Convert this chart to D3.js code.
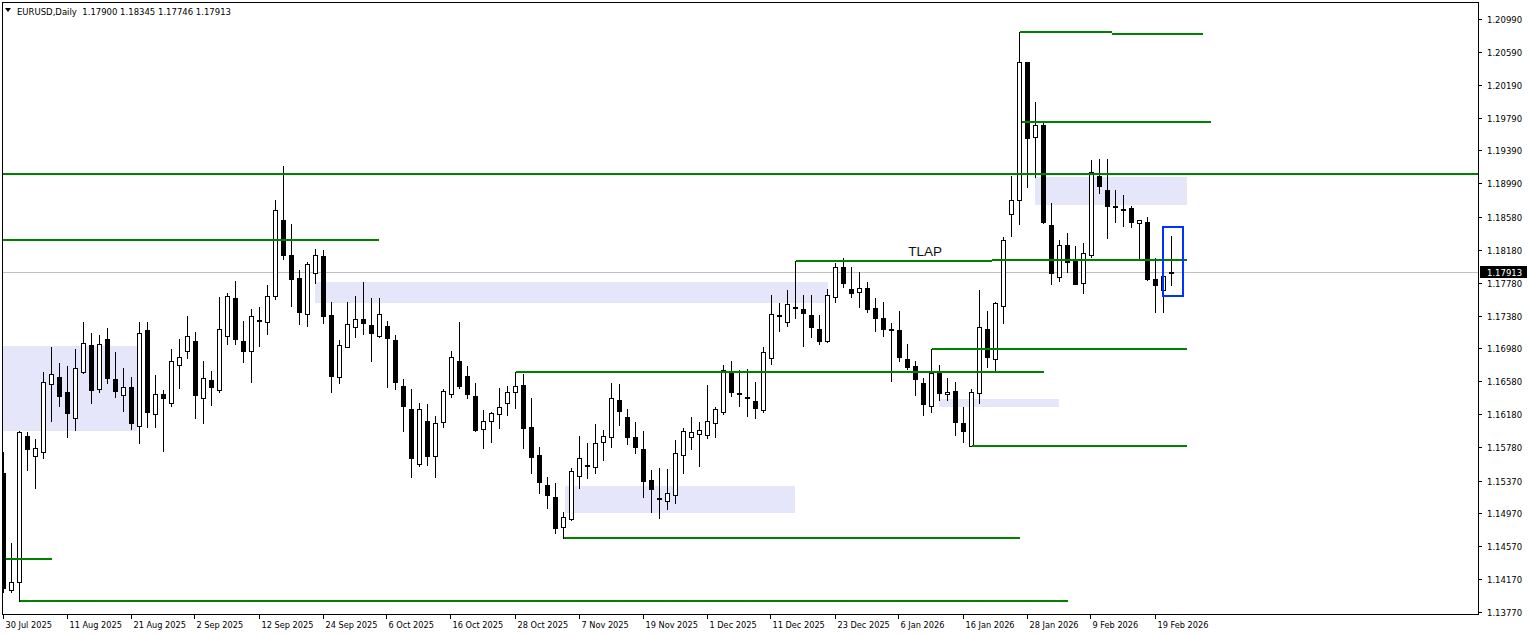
<!DOCTYPE html>
<html><head><meta charset="utf-8">
<script src="https://cdn.jsdelivr.net/npm/d3@7"></script>
<style>html,body{margin:0;padding:0;background:#fff;overflow:hidden}svg{display:block}</style>
</head><body>
<svg id="c" width="1530" height="636"></svg>
<script>
const open=[
1.15459,1.14038,1.14132,1.15913,1.15672,1.15714,1.16543,1.16627,1.16445,1.16128,
1.16695,1.17021,1.16482,1.17090,1.16603,1.16408,1.16506,1.16038,1.17203,1.16177,
1.16421,1.16314,1.16773,1.16944,1.17066,1.16372,1.16595,1.16469,1.17127,1.17593,
1.17066,1.16944,1.17325,1.17297,1.17614,1.18539,1.18113,1.17832,1.17394,1.17894,
1.18104,1.17386,1.16635,1.17000,1.17236,1.17334,1.17264,1.17134,1.17252,1.17082,
1.16522,1.16242,1.15568,1.16096,1.15665,1.16080,1.16421,1.16826,1.16643,1.16400,
1.15994,1.16092,1.16177,1.16311,1.16445,1.16534,1.16023,1.15681,1.15316,1.15170,
1.14808,1.14902,1.15430,1.15560,1.15539,1.15834,1.15905,1.16351,1.16144,1.15901,
1.15755,1.15377,1.15164,1.15118,1.15191,1.15678,1.15897,1.15934,1.15922,1.16068,
1.16208,1.16700,1.16432,1.16384,1.16339,1.16233,1.16859,1.17386,1.17297,1.17489,
1.17455,1.17382,1.17212,1.17074,1.17609,1.17967,1.17702,1.17665,1.17714,1.17467,
1.17345,1.17212,1.17203,1.16850,1.16765,1.16555,1.16282,1.16676,1.16421,1.16461,
1.16068,1.15791,1.16432,1.17212,1.16847,1.17496,1.18612,1.18782,1.20462,1.19549,
1.19695,1.18476,1.17845,1.18235,1.18044,1.17772,1.18113,1.19079,1.18907,1.18708,
1.18680,1.18685,1.18502,1.18514,1.17824,1.17690,1.17900];
const high=[
1.15721,1.14607,1.15974,1.15965,1.15876,1.16688,1.16993,1.16798,1.16765,1.16969,
1.17301,1.17167,1.17143,1.17228,1.16932,1.16737,1.16627,1.17301,1.17301,1.16655,
1.16473,1.16972,1.17094,1.17374,1.17175,1.16826,1.16704,1.17605,1.17650,1.17800,
1.17313,1.17459,1.17484,1.17747,1.18782,1.19200,1.18490,1.17934,1.18031,1.18190,
1.18177,1.17540,1.17082,1.17540,1.17617,1.17784,1.17589,1.17589,1.17313,1.17143,
1.16607,1.16485,1.16311,1.16299,1.16161,1.16485,1.16948,1.17297,1.16765,1.16555,
1.16229,1.16205,1.16493,1.16525,1.16696,1.16668,1.16379,1.15783,1.15417,1.15344,
1.14991,1.15527,1.15913,1.15824,1.16059,1.15986,1.16555,1.16546,1.16242,1.16084,
1.15974,1.15499,1.15523,1.15507,1.15864,1.16007,1.16144,1.16084,1.16534,1.16270,
1.16777,1.16826,1.16716,1.16728,1.16571,1.16996,1.17629,1.17528,1.17690,1.18044,
1.17629,1.17629,1.17386,1.17702,1.18016,1.18076,1.17967,1.17906,1.17792,1.17589,
1.17540,1.17285,1.17435,1.17033,1.16829,1.16615,1.16972,1.16777,1.16615,1.16574,
1.16270,1.16482,1.17690,1.17435,1.17548,1.18339,1.19079,1.20828,1.20462,1.19975,
1.19744,1.18755,1.18299,1.18381,1.18222,1.18259,1.19268,1.19281,1.19281,1.18907,
1.18846,1.18710,1.18543,1.18575,1.18076,1.17857,1.18345];
const low=[
1.14017,1.14017,1.13907,1.15499,1.15276,1.15641,1.16099,1.16282,1.15897,1.15986,
1.16676,1.16311,1.16452,1.16555,1.16392,1.16221,1.15998,1.15824,1.16027,1.16019,
1.15734,1.16282,1.16501,1.16859,1.16128,1.16075,1.16290,1.16452,1.17037,1.17037,
1.16817,1.16574,1.17012,1.17159,1.17577,1.18071,1.17500,1.17280,1.17256,1.17779,
1.17285,1.16452,1.16562,1.17000,1.17121,1.17151,1.16829,1.17121,1.16513,1.16482,
1.15977,1.15417,1.15551,1.15560,1.15417,1.16019,1.16392,1.16501,1.16379,1.15977,
1.15763,1.15843,1.16007,1.16169,1.16250,1.15770,1.15466,1.15215,1.15040,1.14728,
1.14674,1.14890,1.15285,1.15402,1.15466,1.15621,1.15783,1.16047,1.15819,1.15710,
1.15174,1.14984,1.14911,1.15020,1.15101,1.15466,1.15755,1.15551,1.15892,1.15905,
1.16181,1.16400,1.16282,1.16160,1.16136,1.16208,1.16793,1.17195,1.17256,1.17345,
1.17012,1.17121,1.17030,1.17062,1.17548,1.17723,1.17609,1.17487,1.17426,1.17195,
1.17130,1.16586,1.16829,1.16724,1.16412,1.16169,1.16208,1.16351,1.16351,1.15925,
1.15843,1.15788,1.16319,1.16757,1.16704,1.17285,1.18351,1.18498,1.18948,1.19062,
1.18502,1.17760,1.17804,1.17906,1.17758,1.17658,1.18096,1.18868,1.18327,1.18519,
1.18470,1.18458,1.18056,1.17812,1.17419,1.17426,1.17746];
const close=[
1.14059,1.14139,1.15958,1.15751,1.15763,1.16567,1.16664,1.16404,1.16189,1.16737,
1.17049,1.16473,1.17030,1.16615,1.16464,1.16513,1.16068,1.17167,1.16208,1.16421,
1.16372,1.16822,1.16871,1.17127,1.16416,1.16615,1.16513,1.17212,1.17614,1.17098,
1.16951,1.17370,1.17319,1.17614,1.18661,1.18120,1.17820,1.17426,1.18011,1.18116,
1.17377,1.16647,1.17017,1.17273,1.17334,1.17285,1.17163,1.17394,1.17110,1.16574,
1.16282,1.15641,1.16242,1.15672,1.16068,1.16457,1.16871,1.16525,1.16428,1.15986,
1.16092,1.16189,1.16270,1.16445,1.16518,1.16014,1.15660,1.15356,1.15195,1.14796,
1.14923,1.15487,1.15641,1.15554,1.15824,1.15913,1.16375,1.16221,1.15905,1.15783,
1.15368,1.15271,1.15158,1.15215,1.15702,1.15970,1.15958,1.15982,1.16092,1.16238,
1.16712,1.16452,1.16424,1.16375,1.16258,1.16932,1.17394,1.17380,1.17516,1.17477,
1.17407,1.17240,1.17074,1.17626,1.17967,1.17772,1.17660,1.17714,1.17459,1.17353,
1.17212,1.17206,1.16878,1.16757,1.16603,1.16299,1.16676,1.16440,1.16445,1.16087,
1.15977,1.16452,1.17240,1.16871,1.17536,1.18299,1.18782,1.20462,1.19536,1.19695,
1.18514,1.17894,1.18235,1.18035,1.17760,1.18137,1.19130,1.18961,1.18708,1.18700,
1.18673,1.18514,1.18539,1.17828,1.17755,1.17857,1.17913];

const priceTicks=["1.20990","1.20590","1.20190","1.19790","1.19390","1.18990","1.18580","1.18180","1.17780","1.17380","1.16980","1.16580","1.16180","1.15780","1.15370","1.14970","1.14570","1.14170","1.13770"];
const dateTickIndex=[0,8,16,24,32,40,48,56,64,72,80,88,96,104,112,120,128,136,144];
const dateTickLabels=["30 Jul 2025","11 Aug 2025","21 Aug 2025","2 Sep 2025","12 Sep 2025","24 Sep 2025","6 Oct 2025","16 Oct 2025","28 Oct 2025","7 Nov 2025","19 Nov 2025","1 Dec 2025","11 Dec 2025","23 Dec 2025","6 Jan 2026","16 Jan 2026","28 Jan 2026","9 Feb 2026","19 Feb 2026"];
const lastPrice=1.17913;
const titleText="EURUSD,Daily  1.17900 1.18345 1.17746 1.17913";

// horizontal levels (price, from bar, to bar)
const levelPrice=[1.19102,1.18303,1.14419,1.13907,1.16696,1.14674,1.18044,1.18060,1.16972,1.15796,1.20828,1.20811,1.19739];
const levelFrom =[-1,-1,0.3,2,64,70,99,123.5,116,121,127,138.6,127.3];
const levelTo   =[185,46.9,6.0,133.1,130,127,123.5,147.9,147.9,147.9,138.6,149.9,150.9];
// zones (price top, price bottom, from bar, to bar)
const zoneTop=[1.17009,1.17784,1.15304,1.16363,1.19062];
const zoneBot=[1.15977,1.17536,1.14975,1.16270,1.18725];
const zoneFrom=[-1,38.9,70.2,116.9,128.9];
const zoneTo=[16.7,103.1,98.9,131.9,147.9];
const boxTop=1.18461, boxBot=1.17618, boxFrom=144.9, boxTo=147.4;
const labelText="TLAP", labelBar=113.1, labelPrice=1.18107;

const L=3,R=1478,T=3,B=614;
const svg=d3.select('#c');
const x=d3.scaleLinear().domain([0,146]).range([3.5,1171.5]);
const y=d3.scaleLinear().domain([1.13770,1.20990]).range([612,19]);

svg.append('rect').attr('width',1530).attr('height',636).attr('fill','#fff');
svg.append('clipPath').attr('id','clip').append('rect').attr('x',L).attr('y',T).attr('width',R-L).attr('height',B-T);
const g=svg.append('g').attr('clip-path','url(#clip)').attr('shape-rendering','crispEdges');

zoneTop.forEach((p,k)=>{
  g.append('rect').attr('x',x(zoneFrom[k])).attr('width',x(zoneTo[k])-x(zoneFrom[k]))
   .attr('y',y(p)).attr('height',y(zoneBot[k])-y(p)).attr('fill','#e6e6fa');
});
g.append('line').attr('x1',L).attr('x2',R).attr('y1',Math.round(y(lastPrice))+0.5).attr('y2',Math.round(y(lastPrice))+0.5)
 .attr('stroke','#c0c0c0').attr('stroke-width',1);

const cg=g.append('g');
d3.range(open.length).forEach(i=>{
  const cx=x(i);
  cg.append('line').attr('x1',cx).attr('x2',cx).attr('y1',Math.round(y(high[i]))).attr('y2',Math.round(y(low[i]))+1)
    .attr('stroke','#000').attr('stroke-width',1);
  const top=Math.round(y(Math.max(open[i],close[i]))), bot=Math.round(y(Math.min(open[i],close[i])));
  const bull=close[i]>=open[i];
  if(bot-top<2){
    cg.append('rect').attr('x',cx-2.5).attr('y',top).attr('width',5).attr('height',Math.max(2,bot-top+1)).attr('fill','#000');
  } else {
    cg.append('rect').attr('x',cx-2).attr('y',top+0.5).attr('width',4).attr('height',bot-top)
      .attr('fill',bull?'#fff':'#000').attr('stroke','#000').attr('stroke-width',1);
  }
});

levelPrice.forEach((p,k)=>{
  const yy=Math.round(y(p));
  g.append('line').attr('x1',x(levelFrom[k])).attr('x2',x(levelTo[k])).attr('y1',yy).attr('y2',yy)
   .attr('stroke','#008000').attr('stroke-width',2);
});
g.append('rect').attr('x',x(boxFrom)).attr('y',y(boxTop)).attr('width',x(boxTo)-x(boxFrom)).attr('height',y(boxBot)-y(boxTop))
 .attr('fill','none').attr('stroke','#0033ff').attr('stroke-width',2);
svg.append('text').attr('x',x(labelBar)).attr('y',y(labelPrice)).text(labelText)
 .attr('font-family','Liberation Sans, Arial, sans-serif').attr('font-size',13.5).attr('fill','#111');

// frame
const fr=svg.append('g').attr('shape-rendering','crispEdges');
fr.append('rect').attr('x',L-0.5).attr('y',T-0.5).attr('width',R-L+1).attr('height',B-T+1).attr('fill','none').attr('stroke','#000');

// right axis
const ax=svg.append('g');
priceTicks.forEach(t=>{
  const yy=Math.round(y(+t))+0.5;
  ax.append('line').attr('x1',R).attr('x2',R+4).attr('y1',yy).attr('y2',yy).attr('stroke','#000').attr('shape-rendering','crispEdges');
  ax.append('text').attr('x',R+9).attr('y',yy+3.5).text(t)
   .attr('font-family','DejaVu Sans, sans-serif').attr('font-size',8.5).attr('fill','#000');
});
const ly=Math.round(y(lastPrice));
ax.append('rect').attr('x',R+2).attr('y',ly-6).attr('width',47).attr('height',12).attr('fill','#000');
ax.append('text').attr('x',R+9).attr('y',ly+3.5).text(lastPrice.toFixed(5))
 .attr('font-family','DejaVu Sans, sans-serif').attr('font-size',8.5).attr('fill','#fff');

// bottom axis
dateTickIndex.forEach((i,k)=>{
  const xx=Math.round(x(i))-0.5;
  ax.append('line').attr('x1',xx).attr('x2',xx).attr('y1',B).attr('y2',B+5).attr('stroke','#000').attr('shape-rendering','crispEdges');
  ax.append('text').attr('x',xx+2).attr('y',628).text(dateTickLabels[k])
   .attr('font-family','DejaVu Sans, sans-serif').attr('font-size',8.2).attr('fill','#000');
});

// title
svg.append('path').attr('d','M5,8 L11,8 L8,12 Z').attr('fill','#000');
svg.append('text').attr('x',17).attr('y',14.5).attr('xml:space','preserve').style('white-space','pre').text(titleText)
 .attr('font-family','DejaVu Sans, sans-serif').attr('font-size',8.5).attr('fill','#000');
</script>
</body></html>
